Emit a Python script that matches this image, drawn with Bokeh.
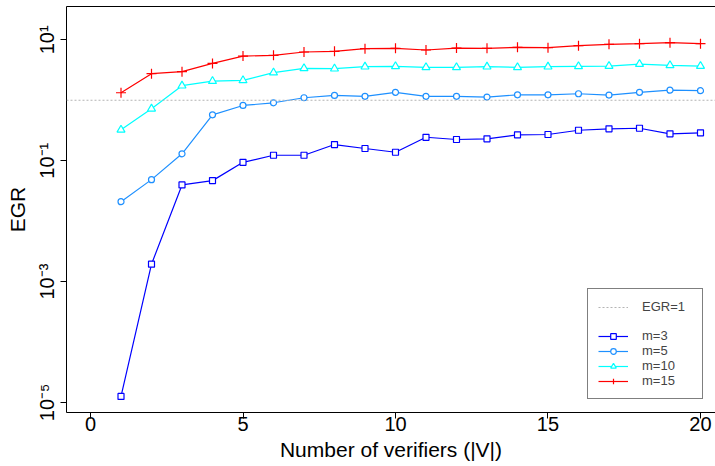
import numpy as np
from bokeh.plotting import figure
from bokeh.models import (FixedTicker, CustomJSTickFormatter, Span, Legend, LegendItem,
                          LinearAxis, ColumnDataSource)
from bokeh.embed import file_html
from bokeh.resources import INLINE

# ---------------- data ----------------
verifiers = list(range(1, 21))
egr_m3 = [1.26e-5, 1.94e-3, 0.0397, 0.0468, 0.0940, 0.123, 0.123, 0.185, 0.159, 0.138,
          0.244, 0.224, 0.230, 0.268, 0.271, 0.319, 0.337, 0.344, 0.278, 0.289]
egr_m5 = [0.0210, 0.0486, 0.130, 0.574, 0.820, 0.908, 1.10, 1.20, 1.16, 1.35,
          1.16, 1.16, 1.13, 1.23, 1.23, 1.28, 1.22, 1.35, 1.47, 1.44]
egr_m10 = [0.324, 0.723, 1.74, 2.07, 2.13, 2.86, 3.37, 3.33, 3.59, 3.64,
           3.50, 3.50, 3.59, 3.50, 3.59, 3.64, 3.68, 3.97, 3.78, 3.68]
egr_m15 = [1.33, 2.75, 2.97, 4.07, 5.38, 5.53, 6.28, 6.44, 7.14, 7.23,
           6.78, 7.31, 7.23, 7.52, 7.41, 8.00, 8.41, 8.63, 8.97, 8.63]
egr_threshold = 1
x_ticks = [0, 5, 10, 15, 20]
y_ticks = [1e-5, 1e-3, 1e-1, 1e1]
series_labels = ["m=3", "m=5", "m=10", "m=15"]

FONT = "Liberation Sans"

p = figure(width=715, height=466, output_backend="svg", toolbar_location=None,
           y_axis_type="log", x_range=(-0.787, 20.492), y_range=(10 ** -5.166, 10 ** 1.551),
           min_border_left=66, min_border_right=0, min_border_top=6, min_border_bottom=54)
p.grid.visible = False
p.outline_line_color = None
p.background_fill_color = "white"
p.border_fill_color = "white"

# axes
xa = p.xaxis[0]
xa.ticker = FixedTicker(ticks=x_ticks)
xa.axis_label = "Number of verifiers (|V|)"
ya = p.yaxis[0]
ya.ticker = FixedTicker(ticks=y_ticks)
ya.axis_label = "EGR"
ya.formatter = CustomJSTickFormatter(code="""
const sup = {"-":"\u207b","0":"\u2070","1":"\u00b9","2":"\u00b2","3":"\u00b3","4":"\u2074",
             "5":"\u2075","6":"\u2076","7":"\u2077","8":"\u2078","9":"\u2079"};
const e = Math.round(Math.log10(tick));
return "10" + String(e).split("").map(c => sup[c]).join("");
""")
ya.major_label_orientation = "vertical"
for ax in (xa, ya):
    ax.minor_tick_line_color = None
    ax.major_tick_out = 6
    ax.major_tick_in = 0
    ax.axis_line_color = "black"
    ax.major_tick_line_color = "black"
    ax.major_label_text_font = FONT
    ax.major_label_text_font_size = "20px"
    ax.major_label_text_color = "black"
    ax.axis_label_text_font = FONT
    ax.axis_label_text_font_size = "21px"
    ax.axis_label_text_font_style = "normal"
    ax.axis_label_text_color = "black"
xa.major_label_standoff = -2
xa.axis_label_standoff = 4
ya.major_label_standoff = 2
ya.axis_label_standoff = 5

top = LinearAxis(ticker=FixedTicker(ticks=[]), major_label_text_font_size="0px",
                 major_tick_line_color=None, minor_tick_line_color=None, axis_line_color="black")
p.add_layout(top, "above")

# reference line
p.add_layout(Span(location=egr_threshold, dimension="width", line_color="#b4b4b4",
                  line_dash="2 2", line_width=1.2))

colors = ["#0000FF", "#1E90FF", "#00FFFF", "#FF0000"]
markers = ["square", "circle", "triangle", "cross"]
sizes = [6, 6, 8, 10]
items = []
# single-point line: invisible on the plot, used only as the legend sample
egr_legend = p.line(x=verifiers[:1], y=[egr_threshold], line_color="#b4b4b4",
                    line_dash="2 2", line_width=1.2)
blank = p.line(x=verifiers[:1], y=[egr_threshold], line_alpha=0)
items.append(LegendItem(label="EGR=1", renderers=[egr_legend]))
items.append(LegendItem(label=" ", renderers=[blank]))
for ys, c, mk, sz, lab in zip([egr_m3, egr_m5, egr_m10, egr_m15], colors, markers, sizes, series_labels):
    src = ColumnDataSource(dict(x=verifiers, y=ys))
    lr = p.line("x", "y", source=src, line_color=c, line_width=1.2)
    fill = None if mk == "cross" else "white"
    sr = p.scatter("x", "y", source=src, marker=mk, size=sz, line_color=c, line_width=1.2,
                   fill_color=fill)
    items.append(LegendItem(label=lab, renderers=[lr, sr]))

legend = Legend(items=items, location=(521, 13), label_text_font=FONT,
                label_text_font_size="13px", label_text_line_height=1.0,
                glyph_width=30, glyph_height=14, label_width=50,
                label_height=14, spacing=0, padding=10, margin=0, label_standoff=14,
                border_line_color="black", border_line_width=1,
                background_fill_color="white", background_fill_alpha=1)
p.add_layout(legend, "center")

open("out.html", "w").write(file_html(p, INLINE))
